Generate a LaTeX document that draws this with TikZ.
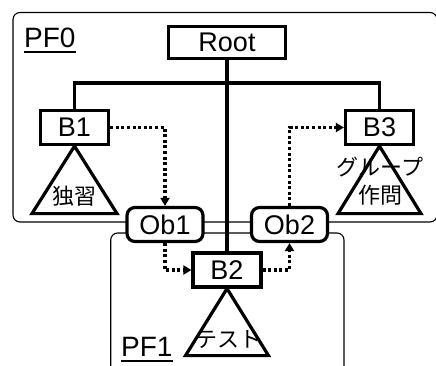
\documentclass[tikz,border=0pt]{standalone}
\usepackage{fontspec}
\setmainfont{Liberation Sans}
\newfontfamily\jpfont{Noto Sans CJK JP}
\usetikzlibrary{arrows.meta,positioning}

\tikzset{
  blk/.style={draw,line width=3.2pt,fill=white,minimum width=68pt,minimum height=34pt,
    inner sep=0pt,font=\fontsize{27}{27}\selectfont},
  obj/.style={blk,rounded corners=8pt,minimum width=76pt},
  pf/.style={draw,line width=1.1pt,rounded corners=7pt},
  link/.style={line width=3.2pt},
  flow/.style={line width=3.2pt,dash pattern=on 3pt off 2.6pt,
    -{Triangle[length=8pt,width=9pt]}},
  tri/.style={line width=3.2pt,line join=miter},
  jp/.style={font=\jpfont\fontsize{22}{24}\selectfont,inner sep=0pt},
  pflabel/.style={font=\fontsize{28}{28}\selectfont,inner sep=0pt,anchor=base west}
}

\begin{document}
\begin{tikzpicture}[x=1pt,y=-1pt]
  \useasboundingbox (0,0) rectangle (436,365);

  % Platform frames
  \draw[pf] (13,12.5) rectangle (437,222);
  \draw[pf] (110.7,233) rectangle (344,385);
  \node[pflabel] (pf0) at (24,47) {PF0};
  \node[pflabel] (pf1) at (121,356) {PF1};
  \draw[line width=2.2pt] ([yshift=-5pt]pf0.base west) -- ([yshift=-5pt]pf0.base east);
  \draw[line width=2.2pt] ([yshift=-5pt]pf1.base west) -- ([yshift=-5pt]pf1.base east);

  % Blocks
  \node[blk,minimum width=117pt,minimum height=32pt] (root) at (227,42.5) {Root};
  \node[blk] (b1) at (74.5,127.5) {B1};
  \node[blk] (b3) at (379.5,127.5) {B3};
  \node[blk] (b2) at (227,270) {B2};
  \node[obj] (ob1) at (165,224.5) {Ob1};
  \node[obj] (ob2) at (289.5,224.5) {Ob2};
  \coordinate (bus) at (227,83);

  % Tree edges
  \draw[link] (root.south) -- (b2.north);
  \draw[link] (b1.north) |- (bus) -| (b3.north);

  % Subtrees
  \draw[tri] (b1.south) -- ++(-42.5,67.5) -- ++(85,0) -- cycle;
  \draw[tri] (b3.south) -- ++(-41.5,67.5) -- ++(83,0) -- cycle;
  \draw[tri] (b2.south) -- ++(-41.5,67) -- ++(83,0) -- cycle;
  \node[jp] (t1) at (74,196) {独習};
  \node[jp] (t3a) at (380,167) {グループ};
  \node[jp] (t3b) at (380,195) {作問};
  \node[jp] (t2) at (228,340) {テスト};

  % Object flow
  \draw[flow] (b1.east) -| (ob1.north);
  \draw[flow] (ob1.south) |- (b2.west);
  \draw[flow] (b2.east) -| (ob2.south);
  \draw[flow] (ob2.north) |- (b3.west);
\end{tikzpicture}
\end{document}
